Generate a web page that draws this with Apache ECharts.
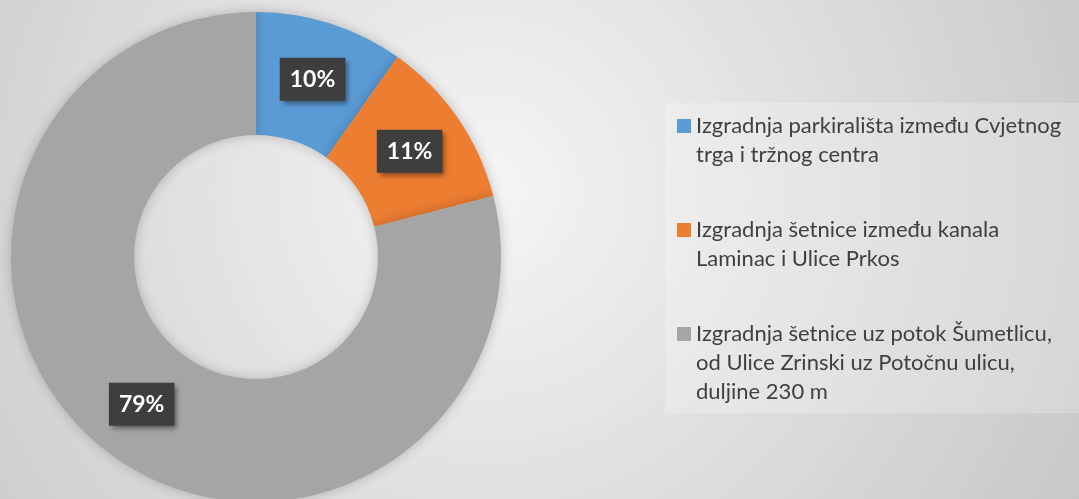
<!DOCTYPE html>
<html>
<head>
<meta charset="utf-8">
<script src="https://cdn.jsdelivr.net/npm/echarts@6/dist/echarts.min.js"></script>
<style>
  html, body { margin: 0; padding: 0; }
  #chart { width: 1079px; height: 499px; }
</style>
</head>
<body>
<div id="chart"></div>
<script>
var categories = [
  'Izgradnja parkirališta između Cvjetnog\ntrga i tržnog centra',
  'Izgradnja šetnice između kanala\nLaminac i Ulice Prkos',
  'Izgradnja šetnice uz potok Šumetlicu,\nod Ulice Zrinski uz Potočnu ulicu,\nduljine 230 m'
];
var values = [9.8, 11.2, 79.0];
var colors = ['#5b9bd5', '#ed7d31', '#a5a5a5'];

var lineH = 29;
// top of each legend square
var iconTops = [119, 223, 327];

var myChart = echarts.init(document.getElementById('chart'));

// one legend per entry so the square sits on the first text line
var legends = categories.map(function (name, i) {
  var n = name.split('\n').length;
  var blockH = lineH * (2 * n - 1);
  return {
    orient: 'vertical',
    left: 677,
    top: iconTops[i] - (blockH / 2 - 7),
    padding: 0,
    itemWidth: 14,
    itemHeight: 14,
    icon: 'rect',
    selectedMode: false,
    itemStyle: { borderWidth: 0 },
    data: [name],
    formatter: function (nm) {
      var k = nm.split('\n').length;
      return new Array(k).join('\n') + nm;   // leading blank lines
    },
    textStyle: {
      color: '#404040',
      fontFamily: 'Lato',
      fontSize: 22,
      lineHeight: lineH,
      backgroundColor: 'rgba(0,0,0,0)'
    }
  };
});

option = {
  backgroundColor: {
    type: 'radial', x: 0.45, y: 0.38, r: 1.4,
    colorStops: [
      { offset: 0, color: '#f5f5f5' },
      { offset: 1, color: '#c6c6c6' }
    ]
  },
  color: colors,
  animation: false,
  graphic: [{
    type: 'rect',
    left: 665, top: 103,
    shape: { width: 420, height: 310 },
    style: { fill: 'rgba(255,255,255,0.22)' },
    silent: true
  }],
  legend: legends,
  series: [{
    type: 'pie',
    radius: [122, 245],
    center: [256, 257],
    startAngle: 90,
    clockwise: true,
    percentPrecision: 0,
    itemStyle: {
      borderWidth: 0,
      shadowBlur: 12,
      shadowColor: 'rgba(0,0,0,0.22)'
    },
    label: {
      show: true,
      position: 'inside',
      formatter: '{d}%',
      color: '#ffffff',
      fontFamily: 'Lato',
      fontWeight: 'bold',
      fontSize: 23,
      lineHeight: 26,
      backgroundColor: '#3e3e3e',
      padding: [9, 10, 8, 10],
      shadowColor: 'rgba(0,0,0,0.45)',
      shadowBlur: 5,
      shadowOffsetX: 3,
      shadowOffsetY: 3
    },
    labelLine: { show: false },
    emphasis: { disabled: true },
    data: categories.map(function (c, i) {
      return { name: c, value: values[i] };
    })
  }]
};
myChart.setOption(option);
</script>
</body>
</html>
